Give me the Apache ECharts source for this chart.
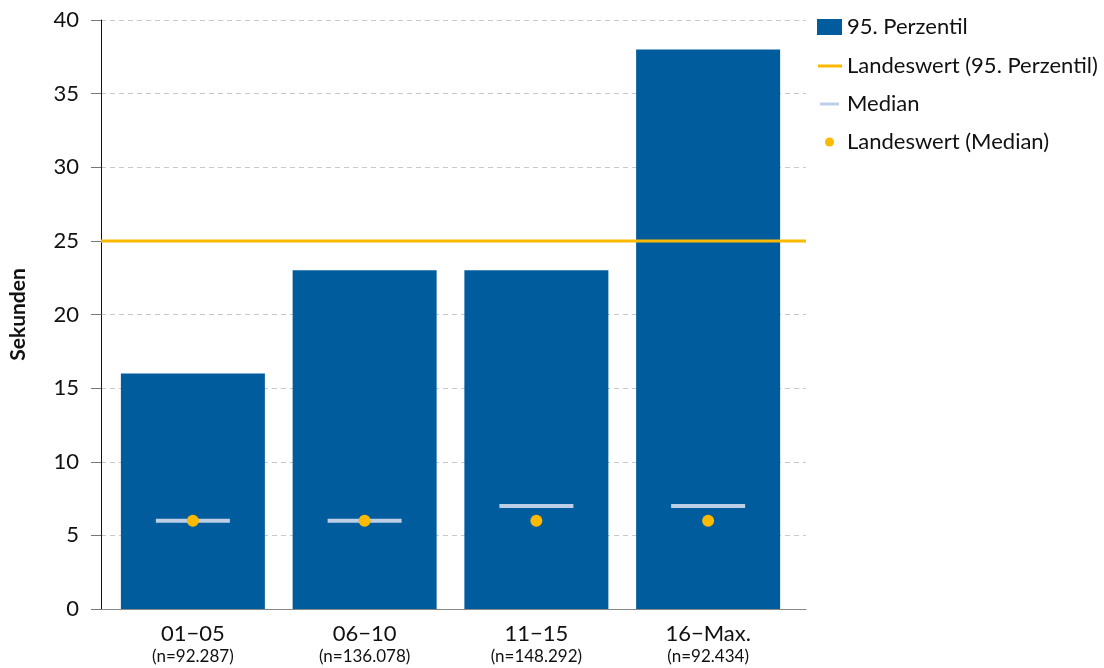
<!DOCTYPE html>
<html><head><meta charset="utf-8">
<script src="https://cdn.jsdelivr.net/npm/echarts@6/dist/echarts.min.js"></script>
<style>html,body{margin:0;padding:0;background:#fff}#c{width:1104px;height:668px}</style>
</head><body><div id="c"></div>
<script>
const categories = ['01\u221205', '06\u221210', '11\u221215', '16\u2212Max.'];
const counts = ['(n=92.287)', '(n=136.078)', '(n=148.292)', '(n=92.434)'];
const p95 = [16, 23, 23, 38];
const median = [6, 6, 7, 7];
const landesMedian = [6, 6, 6, 6];
const landesP95 = 25;
const yTicks = [0, 5, 10, 15, 20, 25, 30, 35, 40];

const FONT = 'Lato';
const BLUE = '#005c9c';
const ORANGE = '#fbb900';
const LIGHT = '#bccfe6';

const chart = echarts.init(document.getElementById('c'));
const legendBase = {itemGap: 0, padding: 0, selectedMode: false};
const lt = (pad) => ({fontFamily: FONT, fontSize: 22, color: '#111', padding: [0, 0, 0, pad]});
chart.setOption({
  animation: false,
  grid: [
    {left: 95, right: 298, top: 20, bottom: 59},
    {left: 107, right: 310, top: 20, bottom: 59}
  ],
  legend: [
    Object.assign({}, legendBase, {left: 817, top: 16, itemWidth: 25, itemHeight: 16, textStyle: lt(0), data: [{name: '95. Perzentil', icon: 'rect'}]}),
    Object.assign({}, legendBase, {left: 818, top: 55, itemWidth: 24, itemHeight: 3, textStyle: lt(0), data: [{name: 'Landeswert (95. Perzentil)', icon: 'rect'}]}),
    Object.assign({}, legendBase, {left: 820, top: 93, itemWidth: 19, itemHeight: 3, textStyle: lt(3), data: [{name: 'Median', icon: 'rect'}]}),
    Object.assign({}, legendBase, {left: 825, top: 131, itemWidth: 9, itemHeight: 9, textStyle: lt(8), data: [{name: 'Landeswert (Median)', icon: 'circle'}]})
  ],
  xAxis: [
    {type: 'value', gridIndex: 0, min: 0, max: 1, axisLabel: {show: false}, axisTick: {show: false}, splitLine: {show: false},
     axisLine: {show: true, onZero: false, lineStyle: {color: '#888', width: 1}}},
    {type: 'category', gridIndex: 1, data: categories, axisLine: {show: false}, axisTick: {show: false},
     axisLabel: {margin: 12, interval: 0,
       formatter: (v, i) => '{a|' + v + '}\n{b|' + counts[i] + '}',
       rich: {a: {fontFamily: FONT, fontSize: 22, color: '#111', lineHeight: 25}, b: {fontFamily: FONT, fontSize: 17, color: '#111', lineHeight: 21}}}}
  ],
  yAxis: [
    {type: 'value', gridIndex: 0, min: 0, max: 40, interval: 5,
     name: 'Sekunden', nameLocation: 'middle', nameGap: 72, nameRotate: 90,
     nameTextStyle: {fontFamily: FONT, fontSize: 21, fontWeight: 'bold', color: '#111'},
     axisLine: {show: true, lineStyle: {color: '#111', width: 1}},
     axisTick: {show: true, length: 10, lineStyle: {color: '#777'}},
     axisLabel: {fontFamily: FONT, fontSize: 22, color: '#111', margin: 22, formatter: v => yTicks.includes(v) ? String(v) : ''},
     splitLine: {show: true, lineStyle: {type: [5, 4], color: '#c8c8c8'}}},
    {type: 'value', gridIndex: 1, min: 0, max: 40, interval: 5, show: false}
  ],
  series: [
    {name: '95. Perzentil', type: 'bar', xAxisIndex: 1, yAxisIndex: 1, data: p95, barWidth: 144, itemStyle: {color: BLUE}, z: 2},
    {name: 'Landeswert (95. Perzentil)', type: 'line', xAxisIndex: 0, yAxisIndex: 0, data: [[0, landesP95], [1, landesP95]],
     symbol: 'none', lineStyle: {color: ORANGE, width: 3}, itemStyle: {color: ORANGE}, z: 5},
    {name: 'Median', type: 'scatter', xAxisIndex: 1, yAxisIndex: 1, data: median, symbol: 'rect', symbolSize: [74, 4],
     itemStyle: {color: LIGHT, opacity: 1}, z: 6},
    {name: 'Landeswert (Median)', type: 'scatter', xAxisIndex: 1, yAxisIndex: 1, data: landesMedian, symbol: 'circle', symbolSize: 12,
     itemStyle: {color: ORANGE, opacity: 1}, z: 7}
  ]
});
</script></body></html>
